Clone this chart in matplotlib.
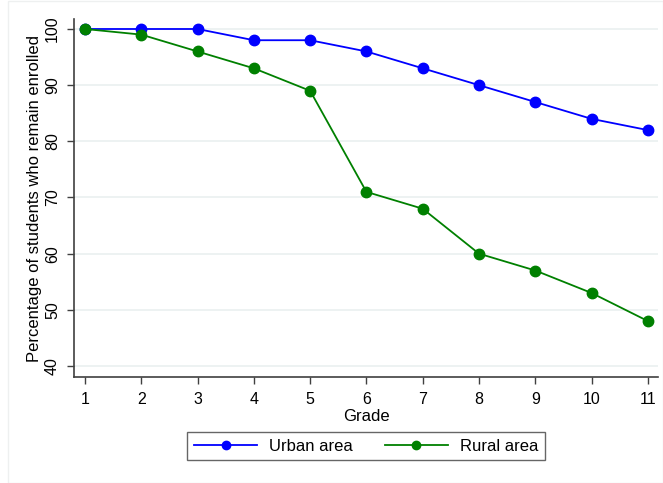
#!/usr/bin/env python3
import matplotlib
matplotlib.use("Agg")
import matplotlib.pyplot as plt
from matplotlib.patches import Rectangle

grades = [1, 2, 3, 4, 5, 6, 7, 8, 9, 10, 11]
urban = [100, 100, 100, 98, 98, 96, 93, 90, 87, 84, 82]
rural = [100, 99, 96, 93, 89, 71, 68, 60, 57, 53, 48]
y_ticks = [40, 50, 60, 70, 80, 90, 100]

plt.rcParams['font.family'] = ['Liberation Sans', 'DejaVu Sans']

fig = plt.figure(figsize=(6.63, 4.83), dpi=100)
# marco exterior tipo Stata
fig.patches.append(Rectangle((8 / 663, 0), 1 - 8 / 663, 1 - 1 / 483,
                             transform=fig.transFigure, fill=False,
                             edgecolor='#eef0f0', linewidth=1))
ax = fig.add_axes([74 / 663, 106 / 483, 584 / 663, 358 / 483])

ax.plot(grades, urban, '-o', color='#0000ff', lw=1.3, ms=7.5, label='Urban area')
ax.plot(grades, rural, '-o', color='#008000', lw=1.3, ms=7.5, label='Rural area')

ax.set_xlim(0.805, 11.18)
ax.set_ylim(38.04, 101.78)
ax.set_xticks(grades)
ax.set_yticks(y_ticks)
ax.set_yticklabels([str(v) for v in y_ticks], rotation=90, va='center')
ax.tick_params(axis='both', direction='out', length=5, width=1,
               color='#404040', labelsize=11.5, labelcolor='black')
ax.tick_params(axis='y', pad=5)
ax.tick_params(axis='x', pad=6)
ax.yaxis.grid(True, color='#eaf0f0', lw=1.2)
ax.set_axisbelow(True)
for s in ['top', 'right']:
    ax.spines[s].set_visible(False)
for s in ['left', 'bottom']:
    ax.spines[s].set_color('#404040')
    ax.spines[s].set_linewidth(1.2)

ax.set_xlabel('Grade', fontsize=12, labelpad=1)
ax.set_ylabel('Percentage of students who remain enrolled', fontsize=12, labelpad=2)

leg = ax.legend(loc='upper center', bbox_to_anchor=(0.5, -55 / 358), ncol=2,
                borderaxespad=0, fancybox=False, frameon=True, fontsize=12,
                handlelength=3.8, handletextpad=0.7, columnspacing=1.9,
                borderpad=0.4, markerscale=0.8)
leg.get_frame().set_edgecolor('#404040')
leg.get_frame().set_linewidth(1)

fig.savefig('out.png', dpi=100)
